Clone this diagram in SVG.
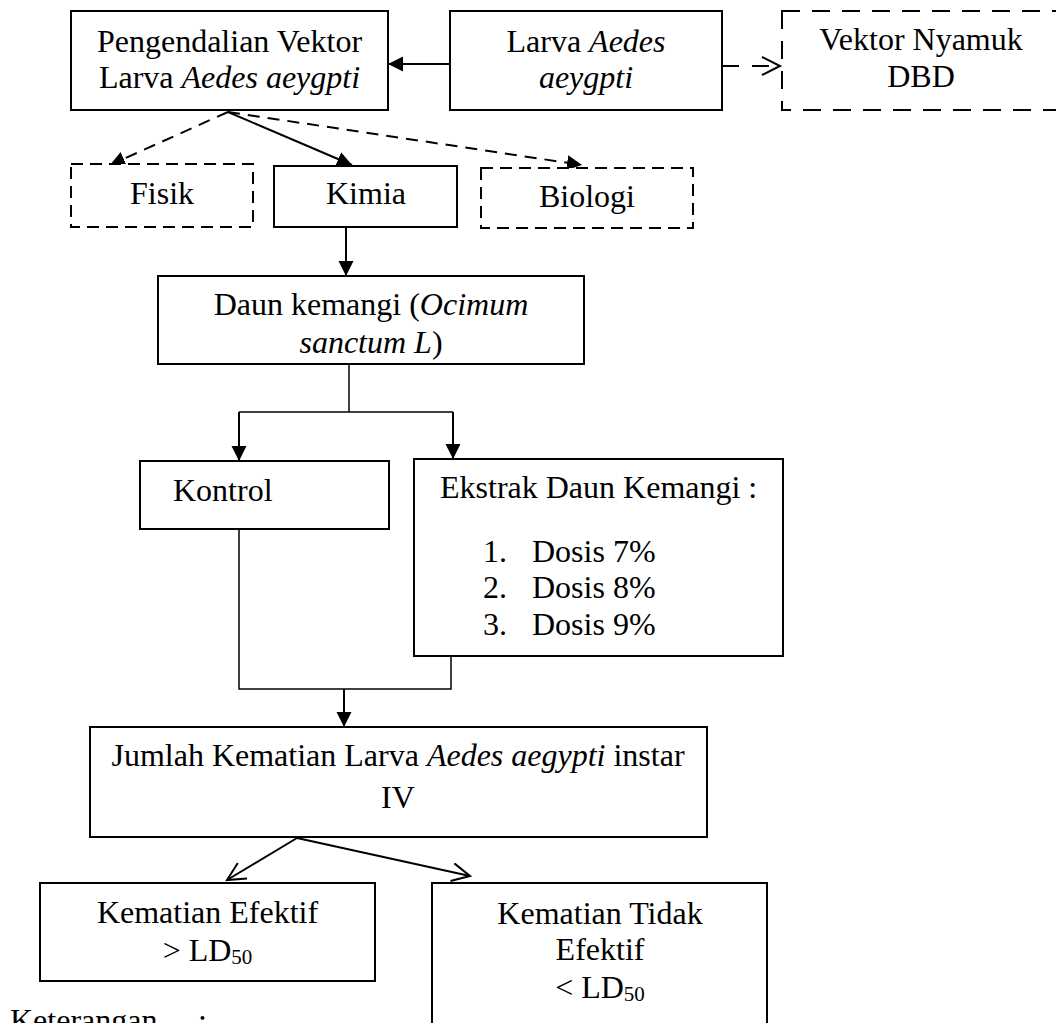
<svg xmlns="http://www.w3.org/2000/svg" width="1056" height="1023" viewBox="0 0 1056 1023">
<style>
  text { font-family: "Liberation Serif", "Times New Roman", serif; font-size: 32px; fill: #000; }
  .c { text-anchor: middle; }
  .i { font-style: italic; }
  .sub { font-size: 21px; }
  .box { fill: #fff; stroke: #000; stroke-width: 2; }
  .dbox { fill: #fff; stroke: #000; stroke-width: 2; stroke-dasharray: 12 7; }
  .dbox2 { fill: #fff; stroke: #000; stroke-width: 2; stroke-dasharray: 18 12; }
  .ln { fill: none; stroke: #000; stroke-width: 2; }
  .thin { fill: none; stroke: #000; stroke-width: 1.5; }
  .dash { fill: none; stroke: #000; stroke-width: 2; stroke-dasharray: 12 8; }
  .dashlong { fill: none; stroke: #000; stroke-width: 2; stroke-dasharray: 17 13; }
</style>
<defs>
  <marker id="fill" markerUnits="userSpaceOnUse" markerWidth="16" markerHeight="16" refX="15" refY="7.5" orient="auto">
    <path d="M0,0 L15,7.5 L0,15 Z" fill="#000"/>
  </marker>
  <marker id="open" markerUnits="userSpaceOnUse" markerWidth="22" markerHeight="22" refX="19" refY="10" orient="auto">
    <polyline points="1,1 19,10 1,19" fill="none" stroke="#000" stroke-width="2"/>
  </marker>
</defs>
<rect width="1056" height="1023" fill="#fff"/>

<g id="connectors">
  <line class="ln" x1="450" y1="64" x2="388" y2="64" marker-end="url(#fill)"/>
  <line class="dashlong" x1="722" y1="66" x2="780" y2="66" marker-end="url(#open)"/>
  <line class="dash" x1="228" y1="112" x2="110" y2="165" marker-end="url(#fill)"/>
  <line class="ln" x1="228" y1="112" x2="352" y2="165" marker-end="url(#fill)"/>
  <line class="dash" x1="228" y1="112" x2="582" y2="165" marker-end="url(#fill)"/>
  <line class="ln" x1="346" y1="227" x2="346" y2="276" marker-end="url(#fill)"/>
  <polyline class="thin" points="349,364 349,412"/>
  <polyline class="thin" points="239,412 453,412"/>
  <line class="ln" x1="239" y1="412" x2="239" y2="461" marker-end="url(#fill)"/>
  <line class="ln" x1="453" y1="412" x2="453" y2="459" marker-end="url(#fill)"/>
  <polyline class="thin" points="239,529 239,689 451,689 451,656"/>
  <line class="ln" x1="344" y1="689" x2="344" y2="727" marker-end="url(#fill)"/>
  <line class="ln" x1="297" y1="838" x2="227" y2="880" marker-end="url(#open)"/>
  <line class="ln" x1="297" y1="838" x2="470" y2="876" marker-end="url(#open)"/>
</g>

<g id="pengendalian">
  <rect class="box" x="71" y="11" width="317" height="99"/>
  <text class="c" x="229.5" y="52">Pengendalian Vektor</text>
  <text class="c" x="229.5" y="88">Larva <tspan class="i">Aedes aeygpti</tspan></text>
</g>
<g id="larva">
  <rect class="box" x="450" y="11" width="272" height="99"/>
  <text class="c" x="586" y="52">Larva <tspan class="i">Aedes</tspan></text>
  <text class="c i" x="586" y="88">aeygpti</text>
</g>
<g id="vektor">
  <rect class="dbox2" x="782" y="11" width="285" height="99"/>
  <text class="c" x="921" y="50">Vektor Nyamuk</text>
  <text class="c" x="921" y="87">DBD</text>
</g>
<g id="fisik">
  <rect class="dbox" x="71" y="164" width="182" height="63"/>
  <text class="c" x="162" y="204">Fisik</text>
</g>
<g id="kimia">
  <rect class="box" x="274" y="166" width="183" height="61"/>
  <text class="c" x="366" y="204">Kimia</text>
</g>
<g id="biologi">
  <rect class="dbox" x="481" y="168" width="212" height="60"/>
  <text class="c" x="587" y="207">Biologi</text>
</g>
<g id="daun">
  <rect class="box" x="158" y="276" width="426" height="88"/>
  <text class="c" x="371" y="315">Daun kemangi (<tspan class="i">Ocimum</tspan></text>
  <text class="c" x="371" y="353"><tspan class="i">sanctum L</tspan>)</text>
</g>
<g id="kontrol">
  <rect class="box" x="140" y="461" width="249" height="68"/>
  <text x="173" y="501">Kontrol</text>
</g>
<g id="ekstrak">
  <rect class="box" x="414" y="459" width="369" height="197"/>
  <text x="440" y="498">Ekstrak Daun Kemangi :</text>
  <text x="483" y="562">1.</text><text x="532" y="562">Dosis 7%</text>
  <text x="483" y="598">2.</text><text x="532" y="598">Dosis 8%</text>
  <text x="483" y="635">3.</text><text x="532" y="635">Dosis 9%</text>
</g>
<g id="jumlah">
  <rect class="box" x="90" y="727" width="617" height="110"/>
  <text class="c" x="398" y="766">Jumlah Kematian Larva <tspan class="i">Aedes aegypti</tspan> instar</text>
  <text class="c" x="398" y="808">IV</text>
</g>
<g id="efektif">
  <rect class="box" x="40" y="883" width="335" height="98"/>
  <text class="c" x="207.5" y="923">Kematian Efektif</text>
  <text class="c" x="207.5" y="961">&gt; LD<tspan class="sub" dy="3">50</tspan></text>
</g>
<g id="tidak">
  <rect class="box" x="432" y="883" width="335" height="150"/>
  <text class="c" x="600" y="924">Kematian Tidak</text>
  <text class="c" x="600" y="960">Efektif</text>
  <text class="c" x="600" y="998">&lt; LD<tspan class="sub" dy="3">50</tspan></text>
</g>
<g id="keterangan">
  <text x="10" y="1031">Keterangan<tspan x="198">:</tspan></text>
</g>
</svg>
